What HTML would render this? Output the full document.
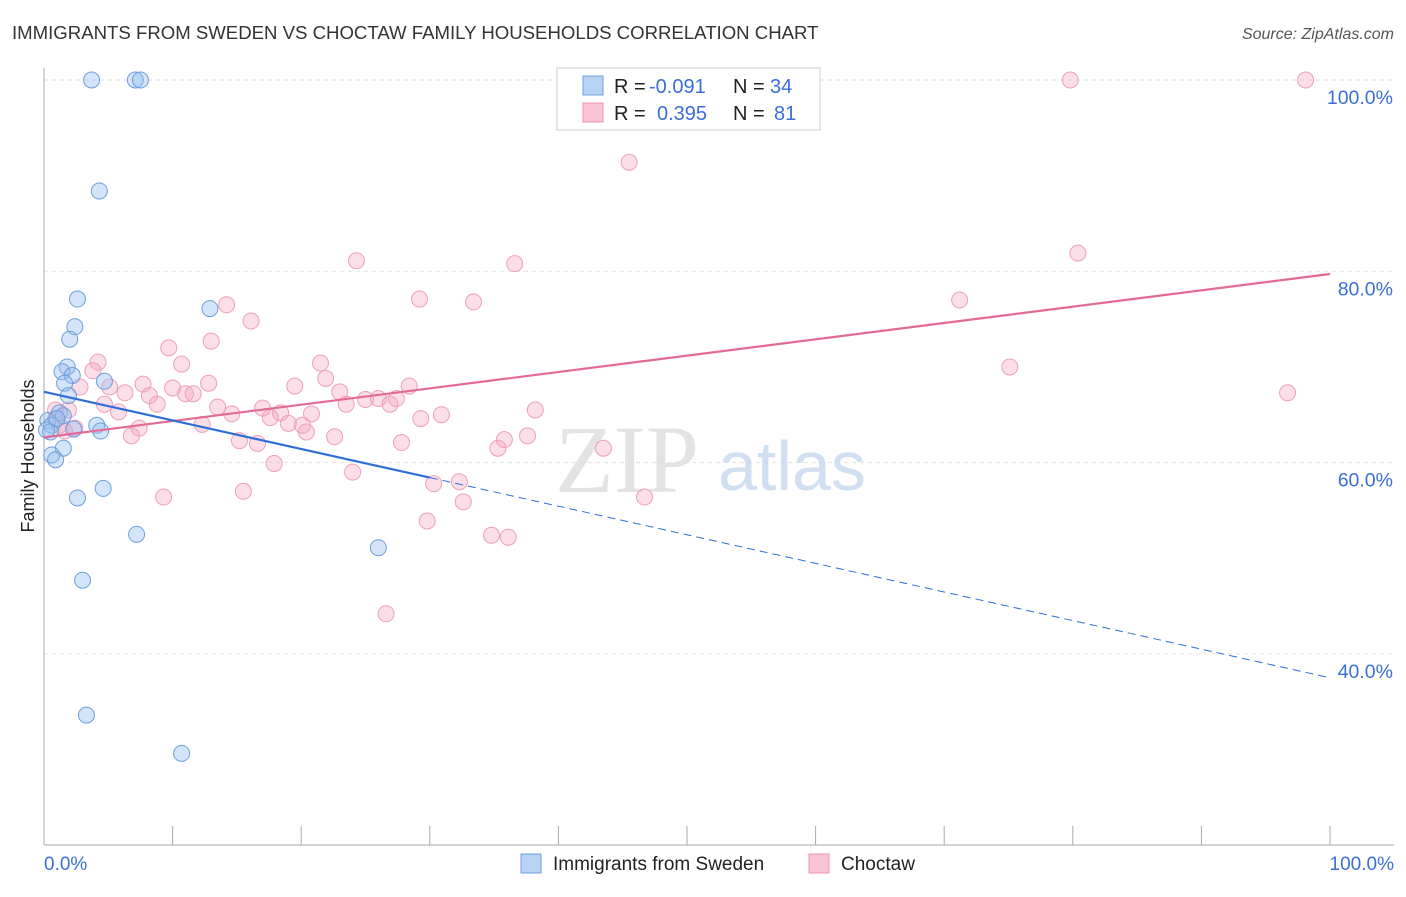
<!DOCTYPE html>
<html><head><meta charset="utf-8"><style>
body{margin:0;background:#fff;font-family:"Liberation Sans",sans-serif}
</style></head><body>
<svg id="chart" width="1406" height="892" xmlns="http://www.w3.org/2000/svg" font-family="Liberation Sans, sans-serif">
<text x="12" y="39" font-size="18.6" fill="#333">IMMIGRANTS FROM SWEDEN VS CHOCTAW FAMILY HOUSEHOLDS CORRELATION CHART</text>
<text x="1394" y="39" font-size="16" fill="#555" font-style="italic" text-anchor="end">Source: ZipAtlas.com</text>
<g id="grid"></g>
<text x="555" y="492" font-size="96" fill="#ddd" font-family="Liberation Serif, serif" opacity="0.8">ZIP</text>
<text x="718" y="490" font-size="70" fill="#c5d8ee" opacity="0.8">atlas</text>
<g id="axes"></g>
<g id="marks"></g>
<text transform="translate(34,456) rotate(-90)" font-size="18" fill="#222" text-anchor="middle">Family Households</text>
<g font-size="20">
<rect x="557" y="68" width="263" height="62" fill="#fff" stroke="#ccc"/>
<rect x="583" y="76" width="20" height="19" fill="#b7d2f5" stroke="#6fa0e0"/>
<rect x="583" y="103" width="20" height="19" fill="#f8c3d3" stroke="#ef93b0"/>
<text x="614" y="93" fill="#222">R =</text><text x="649" y="93" fill="#3a6fd8">-0.091</text>
<text x="733" y="93" fill="#222">N =</text><text x="770" y="93" fill="#3a6fd8">34</text>
<text x="614" y="120" fill="#222">R =</text><text x="657" y="120" fill="#3a6fd8">0.395</text>
<text x="733" y="120" fill="#222">N =</text><text x="774" y="120" fill="#3a6fd8">81</text>
</g>
<g>
<rect x="521" y="854" width="20" height="19" fill="#b7d2f5" stroke="#6fa0e0"/>
<text x="553" y="870" font-size="19" fill="#222">Immigrants from Sweden</text>
<rect x="809" y="854" width="20" height="19" fill="#f8c3d3" stroke="#ef93b0"/>
<text x="841" y="870" font-size="19" fill="#222">Choctaw</text>
</g>
</svg>
<script>
const yTicks=[100,80,60,40];
const yTickLabels=["100.0%","80.0%","60.0%","40.0%"];
const xEndLabels=["0.0%","100.0%"];
const swedenX=[3.7,7.1,7.5,4.3,2.6,2.4,2.0,12.9,1.8,1.4,2.2,1.6,4.7,1.9,1.2,1.5,0.3,0.6,4.1,4.4,2.3,0.5,1.5,0.6,0.9,4.6,2.6,7.2,26.0,3.0,3.3,10.7,0.2,1.0];
const swedenY=[100,100,100,88.4,77.1,74.2,72.9,76.1,70.0,69.5,69.1,68.3,68.5,67.0,65.2,64.9,64.4,63.9,63.9,63.3,63.5,63.2,61.5,60.8,60.3,57.3,56.3,52.5,51.1,47.7,33.6,29.6,63.4,64.6];
const choctawX=[79.8,98.1,45.5,80.4,24.3,36.6,29.2,33.4,71.2,14.2,16.1,9.7,13.0,4.2,10.7,21.5,3.8,75.1,2.8,5.1,7.7,12.8,6.3,8.2,10.0,11.0,11.6,19.5,21.9,23.0,28.4,96.7,0.9,1.9,4.7,5.8,8.8,13.5,14.6,17.0,18.4,20.8,23.5,25.0,26.0,26.9,27.4,29.3,30.9,38.2,1.2,2.4,7.4,6.8,12.3,17.6,19.0,20.1,20.4,22.6,15.2,16.6,27.8,35.8,35.3,37.6,43.5,17.9,24.0,30.3,32.3,32.6,9.3,15.5,46.7,29.8,34.8,36.1,26.6,0.9,1.6];
const choctawY=[100,100,91.4,81.9,81.1,80.8,77.1,76.8,77.0,76.5,74.8,72.0,72.7,70.5,70.3,70.4,69.6,70.0,67.9,67.9,68.2,68.3,67.3,67.0,67.8,67.2,67.2,68.0,68.8,67.4,68.0,67.3,65.5,65.5,66.1,65.3,66.1,65.8,65.1,65.7,65.2,65.1,66.1,66.6,66.7,66.1,66.7,64.6,65.0,65.5,63.9,63.6,63.6,62.8,64.0,64.7,64.1,63.9,63.2,62.7,62.3,62.0,62.1,62.4,61.5,62.8,61.5,59.9,59.0,57.8,58.0,55.9,56.4,57.0,56.4,53.9,52.4,52.2,44.2,64.6,63.3];
const X0=44,X1=1330;
const sx=v=>X0+(X1-X0)*v/100;
const sy=v=>80+(100-v)*9.565;
const NS="http://www.w3.org/2000/svg";
function mk(t,a,p){const e=document.createElementNS(NS,t);for(const k in a)e.setAttribute(k,a[k]);p.appendChild(e);return e;}
const grid=document.getElementById('grid'),axes=document.getElementById('axes'),marks=document.getElementById('marks');
yTicks.forEach((t,i)=>{
 const l=mk('line',{x1:X0,x2:1394,y1:sy(t),y2:sy(t),stroke:'#e2e2e2','stroke-dasharray':'4,4'},grid);
 
 
 const tx=mk('text',{x:1393,y:sy(t)+24,'font-size':19.5,fill:'#3a6fd8','text-anchor':'end'},axes);
 tx.textContent=yTickLabels[i];
 
 
});
const ax=mk('line',{x1:X0,x2:1394,y1:845,y2:845,stroke:'#aaa'},axes);


const ay=mk('line',{x1:X0,x2:X0,y1:68,y2:845,stroke:'#aaa'},axes);


for(let i=0;i<=10;i++){
 const t=mk('line',{x1:sx(i*10),x2:sx(i*10),y1:826,y2:845,stroke:'#aaa'},axes);
 
 
}
[[0,'start',X0],[1,'end',1394]].forEach(([i,a,x])=>{
 const t=mk('text',{x:x,y:870,'font-size':19,fill:'#3a6fd8','text-anchor':a},axes);
 t.textContent=xEndLabels[i];
 
 
});
function fit(xs,ys){const n=xs.length;let mx=0,my=0;for(let i=0;i<n;i++){mx+=xs[i];my+=ys[i];}mx/=n;my/=n;let a=0,b=0;for(let i=0;i<n;i++){a+=(xs[i]-mx)*(ys[i]-my);b+=(xs[i]-mx)**2;}const s=a/b;return [s,my-s*mx];}
choctawX.forEach((v,i)=>{
 const c=mk('circle',{cx:sx(v),cy:sy(choctawY[i]),r:8,fill:'rgba(244,160,188,0.35)',stroke:'#eea0b8','stroke-width':1},marks);
 
 
});
swedenX.forEach((v,i)=>{
 const c=mk('circle',{cx:sx(v),cy:sy(swedenY[i]),r:8,fill:'rgba(150,190,240,0.4)',stroke:'#6e9fdc','stroke-width':1},marks);
 
 
});
const [ps,pi]=fit(choctawX,choctawY);
const pl=mk('line',{x1:sx(0),y1:sy(pi),x2:sx(100),y2:sy(pi+ps*100),stroke:'#e46a96','stroke-width':2.2},marks);


const [bs,bi]=fit(swedenX,swedenY);
const xm=Math.max(...swedenX);
const bl=mk('line',{x1:sx(0),y1:sy(bi),x2:sx(xm+4),y2:sy(bi+bs*(xm+4)),stroke:'#2f6fd6','stroke-width':2.2},marks);


const bd=mk('line',{x1:sx(xm+4),y1:sy(bi+bs*(xm+4)),x2:sx(100),y2:sy(bi+bs*100),stroke:'#2f6fd6','stroke-width':1,'stroke-dasharray':'8,5'},marks);


</script>
</body></html>
